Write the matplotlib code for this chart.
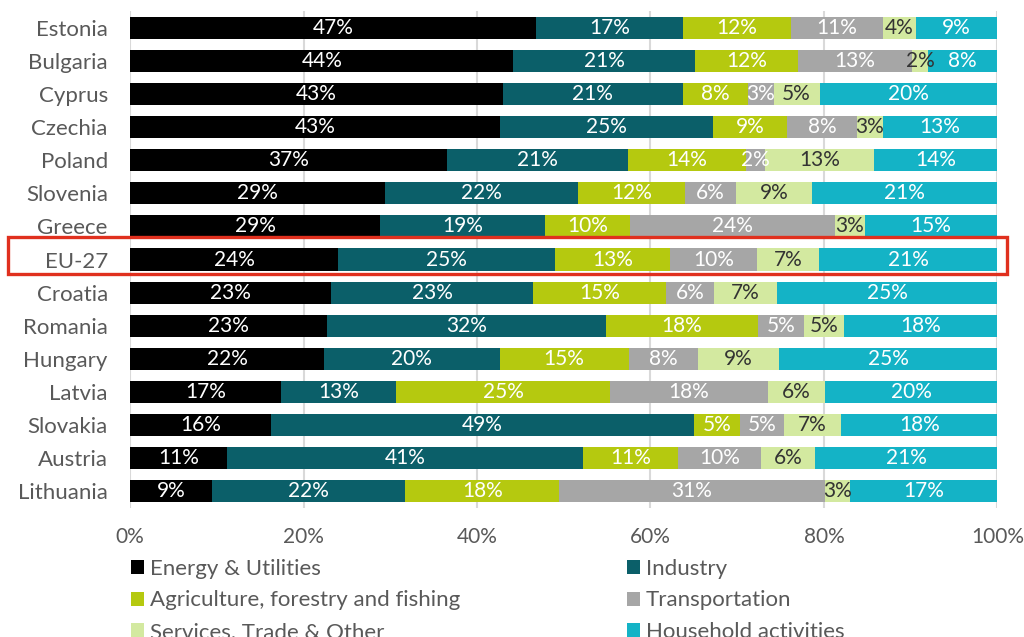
import matplotlib
matplotlib.use("Agg")
import matplotlib.pyplot as plt
import matplotlib.transforms as mtransforms
from matplotlib.patches import Rectangle
import numpy as np

plt.rcParams["font.family"] = ["Lato", "DejaVu Sans"]

countries = ["Estonia", "Bulgaria", "Cyprus", "Czechia", "Poland", "Slovenia", "Greece", "EU-27",
             "Croatia", "Romania", "Hungary", "Latvia", "Slovakia", "Austria", "Lithuania"]
sectors = ["Energy & Utilities", "Industry", "Agriculture, forestry and fishing",
           "Transportation", "Services, Trade & Other", "Household activities"]

# shares in %
energy      = [46.8, 44.2, 43.0, 42.6, 36.6, 29.4, 28.8, 24.0, 23.2, 22.7, 22.4, 17.4, 16.3, 11.2, 9.4]
industry    = [17.0, 20.9, 20.7, 24.6, 20.8, 22.2, 19.1, 25.0, 23.3, 32.2, 20.2, 13.3, 48.7, 41.0, 22.3]
agriculture = [12.4, 11.9, 7.5, 8.6, 13.6, 12.4, 9.8, 13.3, 15.3, 17.5, 14.9, 24.6, 5.3, 11.0, 17.8]
transport   = [10.6, 13.2, 3.0, 8.0, 2.2, 5.9, 23.6, 10.0, 5.5, 5.3, 8.0, 18.3, 5.1, 9.6, 30.6]
services    = [3.8, 1.8, 5.3, 3.0, 12.6, 8.7, 3.4, 7.1, 7.3, 4.6, 9.3, 6.5, 6.6, 6.2, 2.9]
household   = [9.4, 8.0, 20.5, 13.2, 14.2, 21.4, 15.3, 20.6, 25.4, 17.7, 25.2, 19.9, 18.1, 21.0, 17.0]

colors = ["#000000", "#0B5F69", "#B5C90F", "#A6A6A6", "#D3E9A0", "#14B3C6"]
text_colors = ["white", "white", "white", "white", "#333333", "white"]

fig = plt.figure(figsize=(10.24, 6.37), dpi=100)
ax = fig.add_axes([0.127, 0.203, 0.847, 0.779])

series = [energy, industry, agriculture, transport, services, household]
y = np.arange(len(countries))
left = np.zeros(len(countries))
handles = []
for vals, col, tc, name in zip(series, colors, text_colors, sectors):
    vals = np.array(vals)
    b = ax.barh(y, vals, left=left, height=0.67, color=col, label=name, zorder=3)
    handles.append(b)
    for yi, (l, v) in enumerate(zip(left, vals)):
        ax.text(l + v / 2, yi, "%d%%" % round(v), ha="center", va="center",
                color=tc, fontsize=15, zorder=4)
    left += vals

ax.set_xlim(0, 100)
ax.set_ylim(14.5, -0.5)
ax.set_yticks(y)
ax.set_yticklabels(countries, fontsize=16, color="#595959")
ax.set_xticks([0, 20, 40, 60, 80, 100])
ax.set_xticklabels(["0%", "20%", "40%", "60%", "80%", "100%"], fontsize=15, color="#595959")
ax.tick_params(length=0)
ax.tick_params(axis="y", pad=16)
ax.tick_params(axis="x", pad=14)
ax.grid(axis="x", color="#D9D9D9", linewidth=1.5, zorder=0)
for s in ax.spines.values():
    s.set_visible(False)

# highlight box round EU-27
trans = mtransforms.blended_transform_factory(fig.transFigure, ax.transData)
rect = Rectangle((0.008, 6.33), 0.975, 1.11, transform=trans, fill=False,
                 edgecolor="#E0301E", linewidth=2.4, clip_on=False, zorder=5)
ax.add_patch(rect)

# legend filled row by row
order = [0, 2, 4, 1, 3, 5]
fig.legend(handles=[handles[i] for i in order], labels=[sectors[i] for i in order],
           ncol=2, loc="upper left", bbox_to_anchor=(0.128, 0.123), frameon=False,
           fontsize=16, labelcolor="#595959", handlelength=0.6, handleheight=0.6,
           handletextpad=0.25, labelspacing=0.53, columnspacing=7.5,
           borderaxespad=0, borderpad=0)

fig.savefig("out.png", dpi=100)
